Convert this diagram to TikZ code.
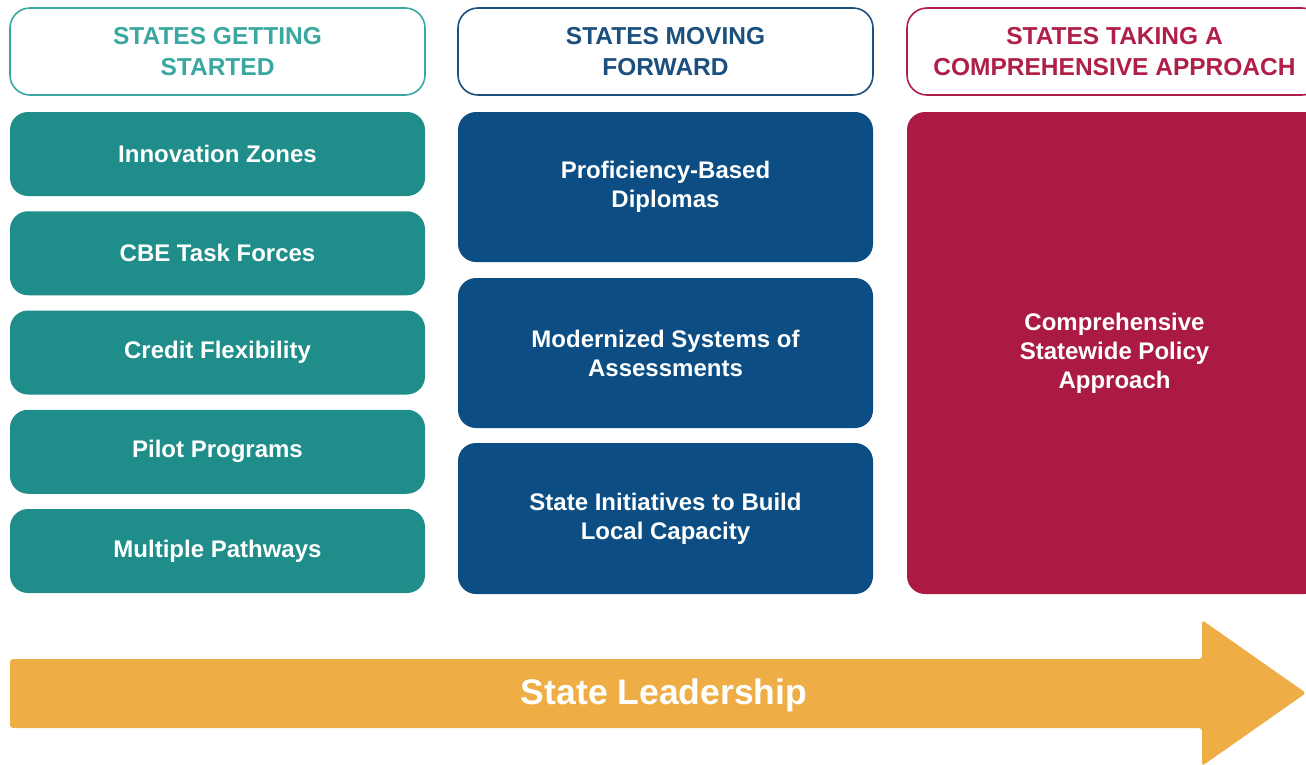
\documentclass[tikz,border=0pt]{standalone}
\usepackage{fontspec}
\setmainfont{Liberation Sans}
\definecolor{startteal}{HTML}{1F8E8A}
\definecolor{startline}{HTML}{3AA7A1}
\definecolor{moveblue}{HTML}{0C4E84}
\definecolor{moveline}{HTML}{1B4F7E}
\definecolor{compred}{HTML}{AB1A42}
\definecolor{compline}{HTML}{B01F48}
\definecolor{leadgold}{HTML}{EEAE45}
\tikzset{
  colhead/.style={draw=#1,text=#1,fill=white,line width=1.6pt,rounded corners=20pt,
    minimum width=415pt,minimum height=87pt,inner sep=0pt,align=center,
    font=\bfseries\fontsize{24.5}{31}\selectfont},
  colbox/.style={fill=#1,text=white,rounded corners=18pt,minimum width=415pt,
    inner sep=0pt,align=center,font=\bfseries\fontsize{24}{29}\selectfont},
}
\begin{document}
\begin{tikzpicture}[x=1pt,y=-1pt]
\useasboundingbox (0,0) rectangle (1306,764);
% column heads
\node [colhead=startline] (headstart) at (217.5,51.5) {STATES GETTING\\STARTED};
\node [colhead=moveline] (headmove) at (665.5,51.5) {STATES MOVING\\FORWARD};
\node [colhead=compline] (headcomp) at (1114.5,51.5) {STATES TAKING A\\COMPREHENSIVE APPROACH};
% getting started
\node [colbox=startteal,minimum height=84pt] (zones) at (217.5,154) {Innovation Zones};
\node [colbox=startteal,minimum height=84pt] (taskforces) at (217.5,253.25) {CBE Task Forces};
\node [colbox=startteal,minimum height=84pt] (credit) at (217.5,352.5) {Credit Flexibility};
\node [colbox=startteal,minimum height=84pt] (pilot) at (217.5,451.75) {Pilot Programs};
\node [colbox=startteal,minimum height=84pt] (pathways) at (217.5,551) {Multiple Pathways};
% moving forward
\node [colbox=moveblue,minimum height=150pt] (diplomas) at (665.5,187) {Proficiency-Based\\Diplomas};
\node [colbox=moveblue,minimum height=150pt] (assess) at (665.5,353) {Modernized Systems of\\Assessments};
\node [colbox=moveblue,minimum height=151pt] (capacity) at (665.5,518.5) {State Initiatives to Build\\Local Capacity};
% comprehensive
\node [colbox=compred,minimum height=482pt] (policy) at (1114.5,353) {Comprehensive\\Statewide Policy\\Approach};
% state leadership arrow
\fill [leadgold,rounded corners=3pt] (10,659) -- (1202,659) -- (1202,620) -- (1306,693)
  -- (1202,766) -- (1202,728) -- (10,728) -- cycle;
\node [text=white,font=\bfseries\fontsize{35.5}{40}\selectfont] (lead) at (664,695) {State Leadership};
\end{tikzpicture}
\end{document}
